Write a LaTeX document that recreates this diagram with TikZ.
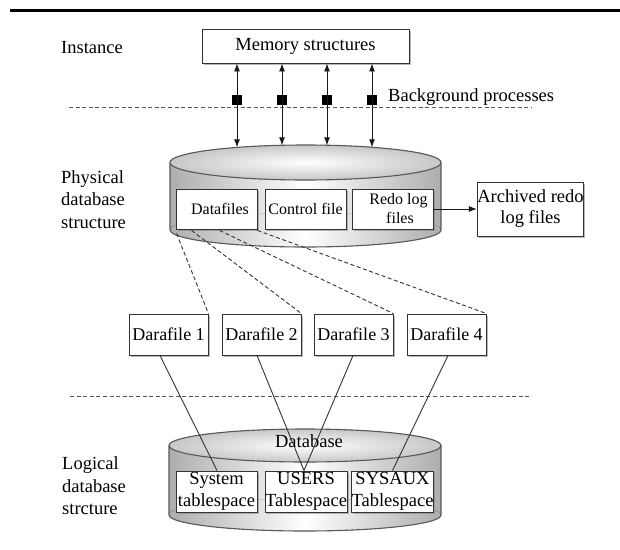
\documentclass[tikz,border=0pt]{standalone}
\usepackage{fontspec}
\setmainfont{Liberation Serif}
\newfontfamily\tnr{Liberation Serif}
\usetikzlibrary{arrows.meta,shadows}
\begin{document}
\begin{tikzpicture}[x=1pt,y=-1pt,
  big/.style={font=\tnr\fontsize{18.5}{22.5}\selectfont},
  mid/.style={font=\tnr\fontsize{18}{21}\selectfont},
  small/.style={font=\tnr\fontsize{16}{19}\selectfont},
  box/.style={draw=black!80, line width=0.9pt, fill=white, inner sep=0pt, align=center,
    drop shadow={shadow xshift=1.6pt, shadow yshift=-1.6pt, fill=black!50, opacity=0.55}},
  lbl/.style={big, anchor=west, inner sep=0pt, align=left},
  divider/.style={draw=black!65, line width=0.9pt, dash pattern=on 4pt off 2.6pt},
  link/.style={draw=black!80, line width=0.9pt, dash pattern=on 4pt off 2.6pt},
  wire/.style={draw=black!80, line width=0.9pt},
  sq/.style={fill=black, inner sep=0pt, minimum size=9.5pt},
  dblarrow/.style={{Latex[length=8pt,width=6pt]}-{Latex[length=8pt,width=6pt]}},
  onearrow/.style={-{Latex[length=8pt,width=6pt]}},
  cylside/.style={left color=black!32, right color=black!32, middle color=white},
  cyltop/.style={inner color=white, outer color=black!22},
  cylline/.style={draw=black!65, line width=1.1pt}
]
\useasboundingbox (0,0) rectangle (620,549);

% top rule
\draw[line width=3pt] (10,10.3) -- (620,10.3);

% ---------- physical cylinder ----------
\fill[cylside] (170,162.5) rectangle (441,230);
\fill[cylside] (305.5,230) ellipse[x radius=135.5, y radius=17];
\draw[cylline] (170,162.5) -- (170,230) arc[start angle=180, end angle=0, x radius=135.5, y radius=17] -- (441,162.5);
\filldraw[cyltop, cylline] (305.5,162.5) ellipse[x radius=135.5, y radius=17.5];

% ---------- logical cylinder ----------
\fill[cylside] (169,445.5) rectangle (441,515);
\fill[cylside] (305,515) ellipse[x radius=136, y radius=16];
\draw[cylline] (169,445.5) -- (169,515) arc[start angle=180, end angle=0, x radius=136, y radius=16] -- (441,445.5);
\filldraw[cyltop, cylline] (305,445.5) ellipse[x radius=136, y radius=16.5];

% dividers
\draw[divider] (69,107) -- (532,107);
\draw[divider] (70,396) -- (532,396);

% labels
\node[lbl] (inst) at (61,47.7) {Instance};
\node[lbl] (bg) at (388,96.7) {Background processes};
\node[lbl] (phys) at (61,199.3) {Physical\\database\\structure};
\node[lbl] (logi) at (62,486) {Logical\\database\\strcture};

% memory structures
\node[box, big, minimum width=207pt, minimum height=34pt] (mem) at (305.5,46) {Memory structures};

% background process squares
\node[sq] (s1) at (237,100) {};
\node[sq] (s2) at (282,100) {};
\node[sq] (s3) at (327,100) {};
\node[sq] (s4) at (372,100) {};
\coordinate (m1) at (mem.south -| s1);
\coordinate (m2) at (mem.south -| s2);
\coordinate (m3) at (mem.south -| s3);
\coordinate (m4) at (mem.south -| s4);
\coordinate (c1) at (237,147.4);
\coordinate (c2) at (282,145.3);
\coordinate (c3) at (327,145.3);
\coordinate (c4) at (372,147.3);
\draw[wire, draw=black!90, dblarrow] (m1) -- (c1);
\draw[wire, draw=black!90, dblarrow] (m2) -- (c2);
\draw[wire, draw=black!90, dblarrow] (m3) -- (c3);
\draw[wire, draw=black!90, dblarrow] (m4) -- (c4);

% physical files
\node[box, small, minimum width=81pt, minimum height=40pt] (df) at (216.5,209) {\hspace*{7pt}Datafiles};
\node[box, small, minimum width=81pt, minimum height=40pt] (cf) at (305.5,209) {Control file};
\node[box, small, minimum width=81pt, minimum height=40pt] (rl) at (392.5,209) {\hspace*{12pt}Redo log\\\hspace*{15pt}files};
\node[box, font=\tnr\fontsize{18.5}{21}\selectfont, minimum width=105pt, minimum height=54pt] (arch) at (530.5,209) {Archived redo\\log files};
\draw[wire, draw=black!90, onearrow] (rl.east) -- (arch.west);

% datafile boxes
\node[box, mid, minimum width=79pt, minimum height=41pt] (d1) at (168.5,334.5) {Darafile 1};
\node[box, mid, minimum width=79pt, minimum height=41pt] (d2) at (261.5,334.5) {Darafile 2};
\node[box, mid, minimum width=79pt, minimum height=41pt] (d3) at (353.5,334.5) {Darafile 3};
\node[box, mid, minimum width=79pt, minimum height=41pt] (d4) at (446.5,334.5) {Darafile 4};

\draw[link] ([shift={(1,4)}]df.south west) -- (d1.north east);
\draw[link] ([shift={(16,1)}]df.south west) -- (d2.north east);
\draw[link] ([shift={(44,1)}]df.south west) -- (d3.north east);
\draw[link] ([shift={(0,1)}]df.south east) -- (d4.north east);

% logical
\node[big, inner sep=0pt] (dbl) at (309,441) {Database};
\node[box, font=\tnr\fontsize{18.5}{22}\selectfont, minimum width=81pt, minimum height=41pt] (sys) at (216.5,491.5) {System\\tablespace};
\node[box, font=\tnr\fontsize{18.5}{22}\selectfont, minimum width=82pt, minimum height=41pt] (usr) at (306,491.5) {USERS\\Tablespace};
\node[box, font=\tnr\fontsize{18.5}{22}\selectfont, minimum width=81pt, minimum height=41pt] (sxa) at (392.5,491.5) {SYSAUX\\Tablespace};

\draw[wire] ([xshift=-8.5pt]d1.south) -- ([xshift=0.5pt]sys.north);
\draw[wire] ([xshift=-4.5pt]d2.south) -- ([xshift=-2pt]usr.north);
\draw[wire] ([xshift=-0.5pt]d3.south) -- ([xshift=-2pt]usr.north);
\draw[wire] ([xshift=1.5pt]d4.south) -- (sxa.north);
\end{tikzpicture}
\end{document}
